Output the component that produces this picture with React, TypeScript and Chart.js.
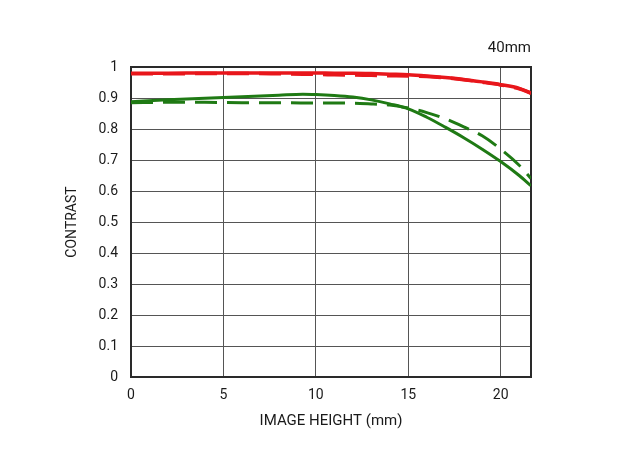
import { useEffect, useRef } from "react";
import { Chart, registerables } from "chart.js";

Chart.register(...registerables);

// image height (mm) sample points
const heights = [0, 2, 4, 6, 8, 9.3, 10, 11, 12, 13, 14, 15, 16, 17, 18, 19, 20, 21, 21.64];
// contrast readings
const redSolid = [0.98, 0.98, 0.981, 0.981, 0.981, 0.981, 0.981, 0.98, 0.98, 0.979, 0.977, 0.975, 0.971, 0.966, 0.96, 0.952, 0.943, 0.931, 0.916];
const redDashed = [0.978, 0.978, 0.979, 0.979, 0.978, 0.977, 0.976, 0.975, 0.974, 0.973, 0.972, 0.971, 0.969, 0.965, 0.959, 0.951, 0.942, 0.93, 0.915];
const greenSolid = [0.888, 0.894, 0.899, 0.904, 0.909, 0.912, 0.911, 0.908, 0.903, 0.894, 0.881, 0.865, 0.838, 0.806, 0.772, 0.735, 0.695, 0.65, 0.617];
const greenDashed = [0.885, 0.886, 0.886, 0.885, 0.885, 0.884, 0.884, 0.884, 0.883, 0.881, 0.877, 0.868, 0.853, 0.833, 0.807, 0.778, 0.735, 0.683, 0.64];

const xTicks = [0, 5, 10, 15, 20];
const yTicks = [0, 0.1, 0.2, 0.3, 0.4, 0.5, 0.6, 0.7, 0.8, 0.9, 1];
const focal = "40mm";

const RED = "#e8161b";
const GREEN = "#1f7a14";
const FAMILY = "Roboto, 'Liberation Sans', sans-serif";

export default function App() {
  const ref = useRef<HTMLCanvasElement>(null);

  useEffect(() => {
    if (!ref.current) return;
    const pts = (vals: number[]) => heights.map((h, i) => ({ x: h, y: vals[i] }));
    const tickFont = { family: FAMILY, size: 14 };

    const frame = {
      id: "frame",
      beforeDatasetsDraw(chart: any) {
        const { ctx, chartArea: a } = chart;
        ctx.save();
        ctx.strokeStyle = "#2a2a2a";
        ctx.lineWidth = 2;
        ctx.strokeRect(a.left, a.top, a.right - a.left, a.bottom - a.top);
        ctx.restore();
      },
      afterDraw(chart: any) {
        const { ctx, chartArea: a } = chart;
        ctx.save();
        ctx.fillStyle = "#1a1a1a";
        ctx.font = `15px ${FAMILY}`;
        ctx.textAlign = "right";
        ctx.textBaseline = "middle";
        ctx.fillText(focal, a.right, 48);
        ctx.restore();
      },
    };

    const chart = new Chart(ref.current, {
      type: "line",
      data: {
        datasets: [
          { data: pts(redDashed), borderColor: RED, borderWidth: 3.5, borderDash: [22, 10] },
          { data: pts(redSolid), borderColor: RED, borderWidth: 3.5 },
          { data: pts(greenDashed), borderColor: GREEN, borderWidth: 3, borderDash: [22, 10] },
          { data: pts(greenSolid), borderColor: GREEN, borderWidth: 3 },
        ],
      },
      options: {
        animation: false,
        responsive: false,
        devicePixelRatio: 1,
        layout: { padding: { left: 0, right: 109, top: 67, bottom: 0 } },
        elements: { point: { radius: 0 }, line: { tension: 0.4, cubicInterpolationMode: "monotone" } },
        plugins: { legend: { display: false }, tooltip: { enabled: false } },
        scales: {
          x: {
            type: "linear",
            min: 0,
            max: 21.64,
            afterBuildTicks: (s: any) => { s.ticks = xTicks.map(v => ({ value: v })); },
            afterFit: (s: any) => { s.height = 87; },
            grid: { color: "#555", lineWidth: 1, drawTicks: false },
            border: { display: false },
            ticks: { color: "#1a1a1a", font: tickFont, padding: 10 },
            title: { display: true, text: "IMAGE HEIGHT (mm)", color: "#1a1a1a", font: { family: FAMILY, size: 15 }, padding: { top: 0, bottom: 34 } },
          },
          y: {
            min: 0,
            max: 1,
            afterBuildTicks: (s: any) => { s.ticks = yTicks.map(v => ({ value: v })); },
            afterFit: (s: any) => { s.width = 131; },
            grid: { color: "#555", lineWidth: 1, drawTicks: false },
            border: { display: false },
            ticks: { color: "#1a1a1a", font: tickFont, padding: 13, callback: (v: any) => String(Number(Number(v).toFixed(1))) },
            title: { display: true, text: "CONTRAST", color: "#1a1a1a", font: { family: FAMILY, size: 14 }, padding: { top: 64, bottom: 0 } },
          },
        },
      },
      plugins: [frame],
    });
    return () => chart.destroy();
  }, []);

  return (
    <div style={{ position: "fixed", left: 0, top: 0, width: 640, height: 464, background: "#fff" }}>
      <canvas ref={ref} width={640} height={464} />
    </div>
  );
}
